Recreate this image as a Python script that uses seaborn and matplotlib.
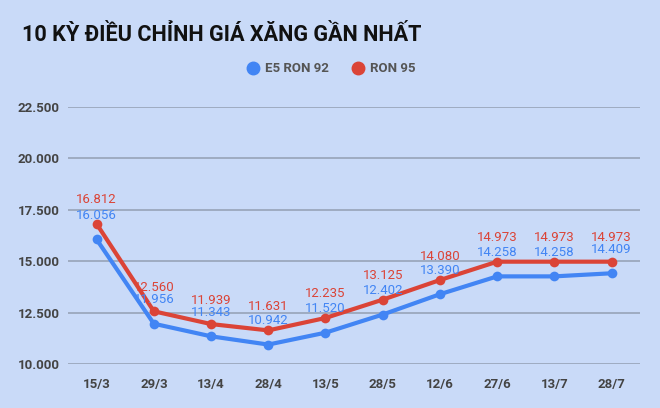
import pandas as pd
import matplotlib.pyplot as plt
import seaborn as sns

# Dữ liệu giá xăng (đồng/lít)
dates = ['15/3', '29/3', '13/4', '28/4', '13/5', '28/5', '12/6', '27/6', '13/7', '28/7']
e5_ron92 = [16056, 11956, 11343, 10942, 11520, 12402, 13390, 14258, 14258, 14409]
ron95 = [16812, 12560, 11939, 11631, 12235, 13125, 14080, 14973, 14973, 14973]
series_names = ['E5 RON 92', 'RON 95']
y_ticks = [10000, 12500, 15000, 17500, 20000, 22500]

BG = '#c9daf8'
BLUE = '#4285f4'
RED = '#db4437'
GRID = '#9ba8bd'

sns.set_style('white', {'axes.facecolor': BG, 'figure.facecolor': BG})
plt.rcParams['font.family'] = ['Roboto', 'DejaVu Sans']

df = pd.DataFrame({
    'x': list(range(len(dates))) * 2,
    'price': e5_ron92 + ron95,
    'series': [series_names[0]] * len(dates) + [series_names[1]] * len(dates),
})

fig = plt.figure(figsize=(6.6, 4.08), dpi=100)
ax = fig.add_axes([0.103, 0.108, 0.867, 0.630])

palette = {series_names[0]: BLUE, series_names[1]: RED}
sns.lineplot(data=df, x='x', y='price', hue='series', palette=palette,
             marker='o', markersize=7, markeredgewidth=0, linewidth=3,
             legend=False, ax=ax, zorder=3)

# nhãn số liệu
def fmt(v):
    return f'{v:,}'.replace(',', '.')

for vals, col in [(e5_ron92, BLUE), (ron95, RED)]:
    for i, v in enumerate(vals):
        ax.annotate(fmt(v), (i, v), xytext=(0, 17.3), textcoords='offset points',
                    ha='center', va='center', fontsize=9.5, color=col, zorder=5)

ax.set_xlim(-0.5, len(dates) - 0.5)
ax.set_ylim(y_ticks[0], y_ticks[-1])
ax.set_yticks(y_ticks)
ax.set_yticklabels([fmt(t) for t in y_ticks])
ax.set_xticks(range(len(dates)))
ax.set_xticklabels(dates)
ax.tick_params(axis='both', length=0, labelsize=9.5, labelcolor='#444444')
ax.tick_params(axis='y', pad=6)
ax.tick_params(axis='x', pad=10)
for lab in ax.get_xticklabels() + ax.get_yticklabels():
    lab.set_fontweight('bold')
ax.set_xlabel('')
ax.set_ylabel('')
for s in ax.spines.values():
    s.set_visible(False)
ax.yaxis.grid(True, color=GRID, linewidth=1.3)
ax.set_axisbelow(True)
for ln in ax.lines:
    ln.set_clip_on(False)

# tiêu đề
fig.text(0.033, 0.915, '10 KỲ ĐIỀU CHỈNH GIÁ XĂNG GẦN NHẤT', fontsize=15.6,
         fontweight='bold', color='#111111', ha='left', va='center')

# chú thích
handles = [plt.Line2D([], [], marker='o', linestyle='', markersize=9,
                      color=palette[n]) for n in series_names]
leg = fig.legend(handles, series_names, loc='center', bbox_to_anchor=(0.5, 0.831),
                 ncol=2, frameon=False, fontsize=9.5, handletextpad=0.3,
                 columnspacing=1.6, handlelength=1.2)
for t in leg.get_texts():
    t.set_color('#555555')
    t.set_fontweight('bold')

fig.savefig('out.png', dpi=100, facecolor=BG)
